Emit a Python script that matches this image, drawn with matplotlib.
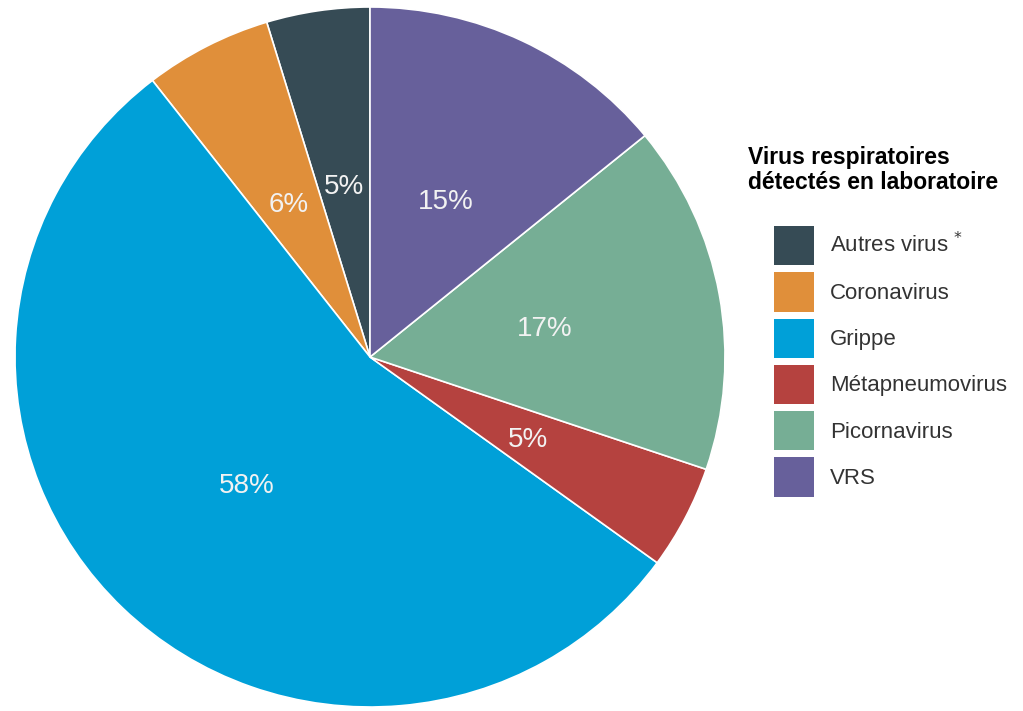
import matplotlib.pyplot as plt
from matplotlib.patches import Patch

plt.rcParams['font.family'] = ['Liberation Sans', 'DejaVu Sans']

# data, legend order (alphabetical), drawn counterclockwise from the top
virus = ['Autres virus $^{*}$', 'Coronavirus', 'Grippe', 'Métapneumovirus',
         'Picornavirus', 'VRS']
share = [4.7, 5.8, 54.5, 4.8, 16.1, 14.1]
pct_labels = ['5%', '6%', '58%', '5%', '17%', '15%']
colors = ['#364B55', '#E08F3A', '#00A0D8', '#B5423F', '#76AE95', '#67609B']

fig = plt.figure(figsize=(10.23, 7.11), dpi=100)
# pie spans x 15..725 px, y 7..707 px (slightly wider than tall, like the source)
ax = fig.add_axes([15/1023, (711-707)/711, 710/1023, 700/711])
wedges, texts = ax.pie(share, colors=colors, startangle=90, counterclock=True,
                       labels=pct_labels, labeldistance=0.5,
                       wedgeprops=dict(edgecolor='white', linewidth=1.2),
                       textprops=dict(color='#F2F2F2', fontsize=20))
for t in texts:
    t.set_ha('center')
    t.set_va('center_baseline')
ax.set_xlim(-1, 1)
ax.set_ylim(-1, 1)
ax.set_aspect('auto')

fig.text(748/1023, 1 - 146/711, 'Virus respiratoires\ndétectés en laboratoire',
         fontsize=16.5, fontweight='bold', ha='left', va='top', linespacing=1.1)

handles = [Patch(facecolor=c, edgecolor='none') for c in colors]
fig.legend(handles, virus, loc='upper left', bbox_to_anchor=(774/1023, 1 - 226/711),
           frameon=False, fontsize=16, handlelength=1.8, handleheight=2.35,
           labelspacing=0.31, handletextpad=0.72, borderpad=0, borderaxespad=0,
           labelcolor='#333333')

plt.savefig('out.png', dpi=100)
